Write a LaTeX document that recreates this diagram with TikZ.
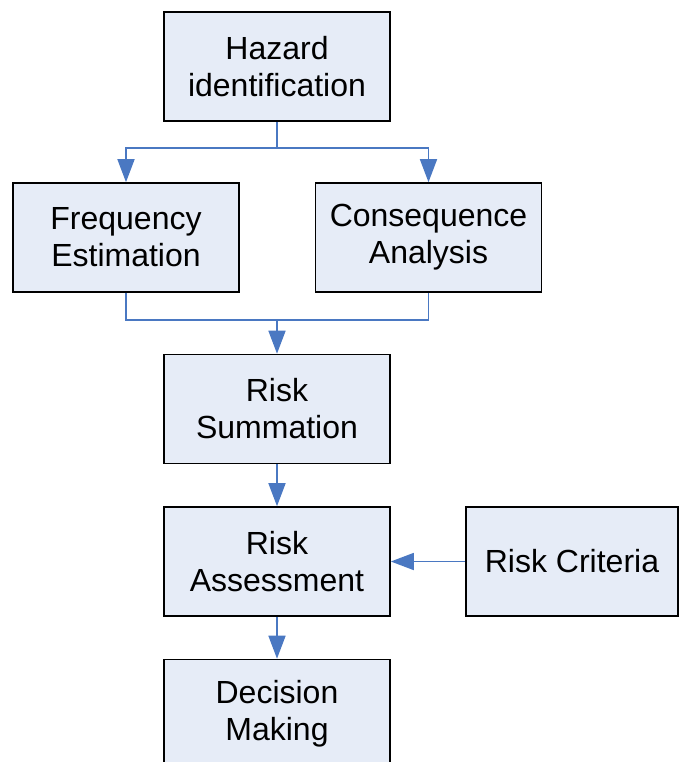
\documentclass[tikz,border=0pt]{standalone}
\usepackage{fontspec}
\setmainfont{Liberation Sans}
\usetikzlibrary{arrows.meta}
\definecolor{boxfill}{HTML}{E6ECF7}
\definecolor{linkblue}{HTML}{4A78C2}
\tikzset{
  stepbox/.style={draw=black, line width=1.6pt, fill=boxfill, minimum width=226pt, minimum height=109pt, inner sep=0pt, align=center, font=\fontsize{32}{37}\selectfont},
  link/.style={draw=linkblue, line width=1.6pt},
  tip/.style={-{Triangle[length=23pt,width=17pt]}}
}
\begin{document}
\begin{tikzpicture}[x=1pt,y=-1pt]
\useasboundingbox (0,0) rectangle (681,762);
\node[stepbox] (haz) at (277,66.5) {Hazard\\identification};
\node[stepbox] (freq) at (126,237.5) {Frequency\\Estimation};
\node[stepbox] (cons) at (428.5,237.5) {Consequence\\Analysis};
\node[stepbox] (sum) at (277,409) {Risk\\Summation};
\node[stepbox] (ass) at (277,561.5) {Risk\\Assessment};
\node[stepbox, minimum width=212pt] (crit) at (572,561.5) {Risk Criteria};
\node[stepbox] (dec) at (277,714) {Decision\\Making};
\coordinate (split) at (277,148);
\coordinate (join) at (277,320);
\draw[link] (haz.south) -- (split);
\draw[link,tip] (split) -| (freq.north);
\draw[link,tip] (split) -| (cons.north);
\draw[link] (freq.south) |- (join);
\draw[link] (cons.south) |- (join);
\draw[link,tip] (join) -- (sum.north);
\draw[link,tip] (sum.south) -- (ass.north);
\draw[link,tip] (crit.west) -- (ass.east);
\draw[link,tip] (ass.south) -- (dec.north);
\end{tikzpicture}
\end{document}
